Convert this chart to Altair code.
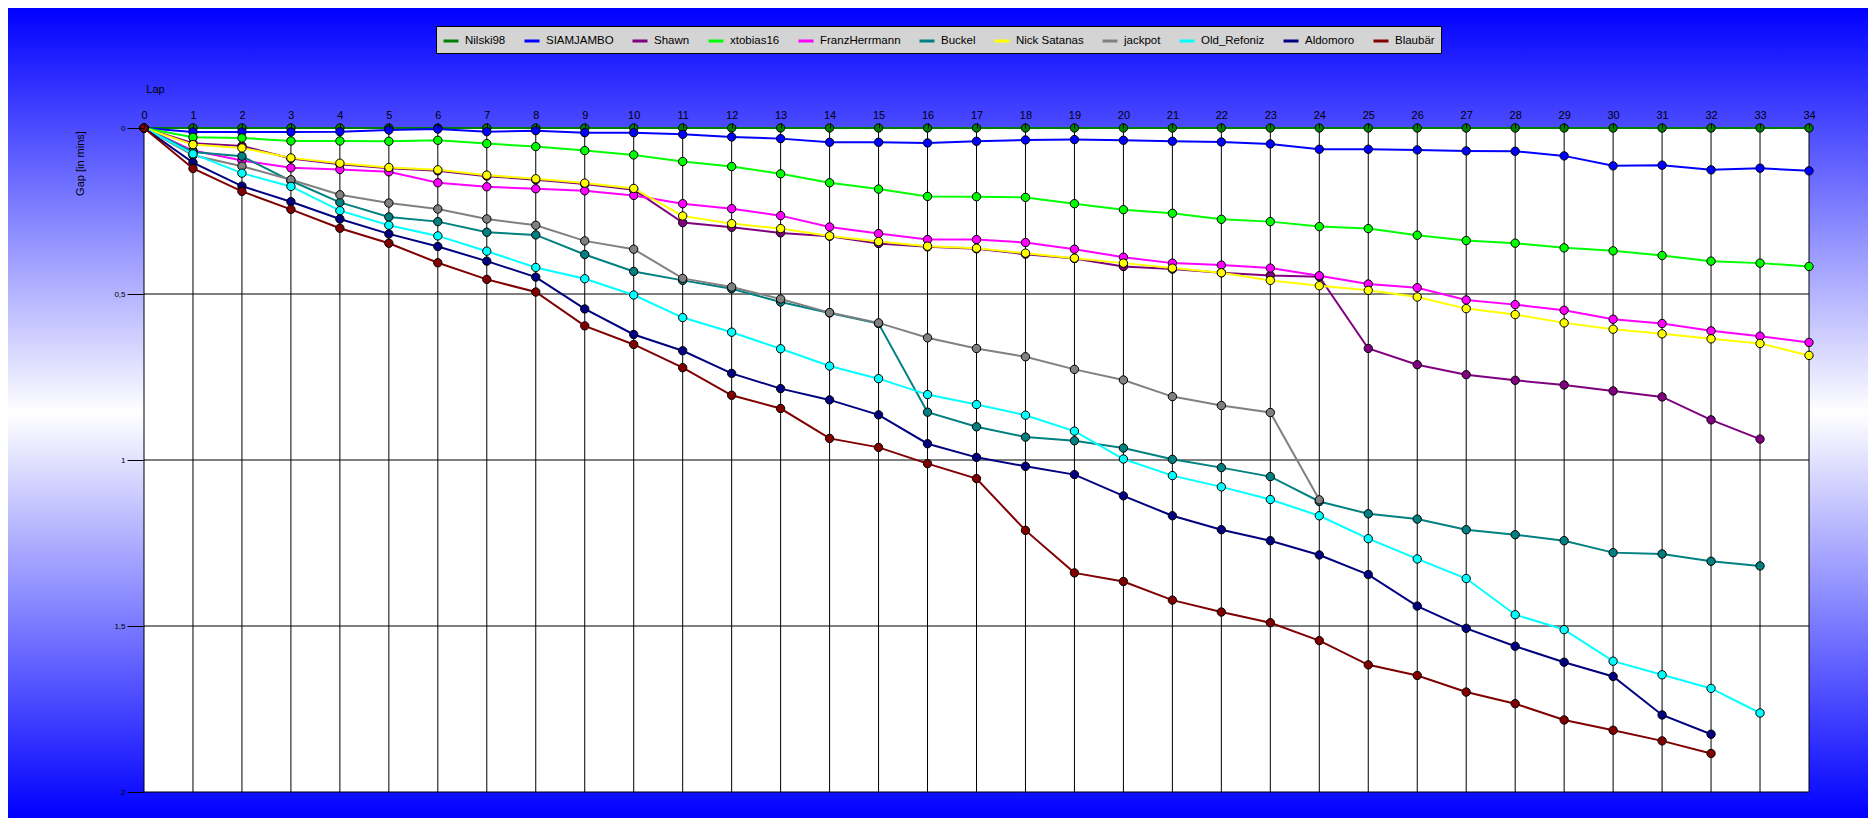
import altair as alt
import pandas as pd

series_names = ["Nilski98", "SIAMJAMBO", "Shawn", "xtobias16", "FranzHerrmann", "Buckel",
                "Nick Satanas", "jackpot", "Old_Refoniz", "Aldomoro", "Blaubär"]
series_colors = ["#008000", "#0000ff", "#800080", "#00ff00", "#ff00ff", "#008080",
                 "#ffff00", "#808080", "#00ffff", "#000080", "#800000"]

nilski98 = [0.0] * 35
siamjambo = [0, 0.012, 0.012, 0.012, 0.011, 0.006, 0.003, 0.011, 0.008, 0.014, 0.014, 0.019, 0.027,
             0.032, 0.043, 0.043, 0.045, 0.040, 0.036, 0.035, 0.037, 0.040, 0.042, 0.048, 0.064,
             0.064, 0.066, 0.069, 0.070, 0.084, 0.114, 0.112, 0.126, 0.121, 0.129]
shawn = [0, 0.046, 0.054, 0.092, 0.109, 0.121, 0.129, 0.145, 0.156, 0.169, 0.186, 0.285, 0.299,
         0.316, 0.326, 0.348, 0.358, 0.364, 0.380, 0.393, 0.417, 0.425, 0.436, 0.444, 0.448,
         0.664, 0.713, 0.743, 0.760, 0.774, 0.792, 0.810, 0.879, 0.937]
xtobias16 = [0, 0.028, 0.030, 0.039, 0.039, 0.040, 0.037, 0.047, 0.056, 0.068, 0.081, 0.101, 0.116,
             0.138, 0.165, 0.184, 0.206, 0.207, 0.209, 0.228, 0.246, 0.257, 0.275, 0.282, 0.297,
             0.303, 0.323, 0.339, 0.347, 0.361, 0.370, 0.384, 0.401, 0.407, 0.417]
franzherrmann = [0, 0.068, 0.098, 0.120, 0.125, 0.132, 0.165, 0.177, 0.183, 0.189, 0.203, 0.228,
                 0.243, 0.264, 0.298, 0.318, 0.336, 0.336, 0.345, 0.365, 0.389, 0.407, 0.413,
                 0.422, 0.445, 0.470, 0.481, 0.518, 0.532, 0.549, 0.576, 0.589, 0.611, 0.627, 0.646]
buckel = [0, 0.072, 0.085, 0.159, 0.224, 0.268, 0.282, 0.314, 0.322, 0.381, 0.432, 0.459, 0.484,
          0.524, 0.557, 0.589, 0.856, 0.900, 0.931, 0.942, 0.964, 0.998, 1.023, 1.050, 1.125,
          1.162, 1.178, 1.210, 1.225, 1.243, 1.279, 1.283, 1.305, 1.319]
nick_satanas = [0, 0.050, 0.060, 0.090, 0.106, 0.119, 0.126, 0.142, 0.153, 0.166, 0.182, 0.265,
                0.288, 0.303, 0.325, 0.342, 0.356, 0.362, 0.377, 0.392, 0.407, 0.422, 0.436,
                0.459, 0.475, 0.489, 0.509, 0.544, 0.562, 0.587, 0.606, 0.620, 0.635, 0.649, 0.685]
jackpot = [0, 0.082, 0.115, 0.156, 0.201, 0.226, 0.244, 0.274, 0.293, 0.340, 0.365, 0.453, 0.479,
           0.515, 0.556, 0.587, 0.632, 0.664, 0.689, 0.727, 0.759, 0.809, 0.836, 0.857, 1.120]
old_refoniz = [0, 0.078, 0.136, 0.176, 0.249, 0.293, 0.325, 0.371, 0.420, 0.454, 0.503, 0.571,
               0.615, 0.665, 0.717, 0.755, 0.803, 0.833, 0.865, 0.913, 0.997, 1.047, 1.081,
               1.119, 1.168, 1.237, 1.298, 1.357, 1.466, 1.511, 1.606, 1.647, 1.688, 1.762]
aldomoro = [0, 0.104, 0.175, 0.222, 0.274, 0.319, 0.357, 0.401, 0.449, 0.545, 0.622, 0.671, 0.739,
            0.785, 0.819, 0.864, 0.951, 0.992, 1.019, 1.044, 1.108, 1.168, 1.210, 1.243, 1.286,
            1.345, 1.440, 1.507, 1.561, 1.609, 1.652, 1.768, 1.826]
blaubaer = [0, 0.122, 0.191, 0.245, 0.302, 0.347, 0.406, 0.456, 0.494, 0.596, 0.652, 0.722, 0.805,
            0.845, 0.935, 0.962, 1.011, 1.056, 1.212, 1.340, 1.366, 1.422, 1.458, 1.490, 1.544,
            1.617, 1.649, 1.699, 1.734, 1.783, 1.814, 1.846, 1.884]

series_values = [nilski98, siamjambo, shawn, xtobias16, franzherrmann, buckel,
                 nick_satanas, jackpot, old_refoniz, aldomoro, blaubaer]

lap_ticks = list(range(0, 35))
gap_ticks = [0, 0.5, 1, 1.5, 2]

W, H = 1665, 664
PAD = {"left": 136, "top": 120, "right": 59, "bottom": 26}
FONT = "Liberation Sans"

xscale = alt.Scale(domain=[0, 34], nice=False, zero=False)
yscale = alt.Scale(domain=[0, 2], nice=False, reverse=True)

xaxis = alt.Axis(orient="top", values=lap_ticks, grid=False, domain=False, tickSize=5,
                 tickColor="black", labelColor="black", labelFontSize=11, labelFont=FONT,
                 labelPadding=3, labelFlush=False, labelOverlap=False, title="Lap",
                 titleFont=FONT, titleFontSize=11, titleFontWeight="normal", titleColor="black",
                 titleX=11, titleY=-39, titleAlign="center", titleBaseline="middle", zindex=1)
yaxis = alt.Axis(orient="left", values=gap_ticks, grid=False, domain=False, tickSize=17,
                 tickColor="black", labelColor="black", labelFontSize=8, labelFont=FONT,
                 labelPadding=2, labelExpr="replace(toString(datum.value), '.', ',')",
                 title="Gap [in mins]", titleFont=FONT, titleFontSize=11,
                 titleFontWeight="normal", titleColor="black", titleAngle=270,
                 titleX=-64, titleY=35, titleAlign="center", titleBaseline="middle", zindex=1)

leg = alt.Legend(orient="none", legendX=292, legendY=-102, direction="horizontal", columns=11,
                 title=None, fillColor="#d4d4d4", strokeColor="#000000", padding=6,
                 symbolType="stroke", symbolSize=225, symbolStrokeWidth=3,
                 labelFontSize=11.5, labelFont=FONT, labelColor="black", columnPadding=12,
                 labelOffset=5)
cscale = alt.Scale(domain=series_names, range=series_colors)

one = pd.DataFrame({"k": [0]})

bg = alt.Chart(one).mark_rect(
    fill=alt.LinearGradient(gradient="linear", x1=0, y1=0, x2=0, y2=1,
                            stops=[alt.GradientStop(color="#0000ff", offset=0),
                                   alt.GradientStop(color="#ffffff", offset=0.5),
                                   alt.GradientStop(color="#0000ff", offset=1)])
).encode(x=alt.value(-PAD["left"]), x2=alt.value(W + PAD["right"]),
         y=alt.value(-PAD["top"]), y2=alt.value(H + PAD["bottom"]))

plot_bg = alt.Chart(one).mark_rect(fill="white").encode(
    x=alt.value(0), x2=alt.value(W), y=alt.value(0), y2=alt.value(H))

vgrid = alt.Chart(pd.DataFrame({"lap": lap_ticks})).mark_rule(color="black", strokeWidth=1).encode(
    x=alt.X("lap:Q", scale=xscale, axis=xaxis), y=alt.value(0), y2=alt.value(H))

hgrid = alt.Chart(pd.DataFrame({"gap": gap_ticks})).mark_rule(color="black", strokeWidth=1).encode(
    y=alt.Y("gap:Q", scale=yscale, axis=yaxis), x=alt.value(0), x2=alt.value(W))

layers = [bg, plot_bg, vgrid, hgrid]
for name, col, vals in zip(series_names, series_colors, series_values):
    df = pd.DataFrame({"series": name, "lap": list(range(len(vals))), "gap": vals})
    base = alt.Chart(df)
    line = base.mark_line(strokeWidth=2).encode(
        x=alt.X("lap:Q", scale=xscale, axis=xaxis),
        y=alt.Y("gap:Q", scale=yscale, axis=yaxis),
        color=alt.Color("series:N", scale=cscale, legend=leg, sort=series_names))
    pts = base.mark_point(filled=True, size=70, stroke="black", strokeWidth=1, opacity=1).encode(
        x=alt.X("lap:Q", scale=xscale, axis=xaxis),
        y=alt.Y("gap:Q", scale=yscale, axis=yaxis),
        fill=alt.value(col))
    layers += [line, pts]

chart = alt.layer(*layers).properties(
    width=W, height=H, padding=PAD,
    autosize=alt.AutoSizeParams(type="none")
).configure_view(stroke="transparent").configure(background="white")

chart.save("out.html", embed_options={"renderer": "svg", "actions": False})
